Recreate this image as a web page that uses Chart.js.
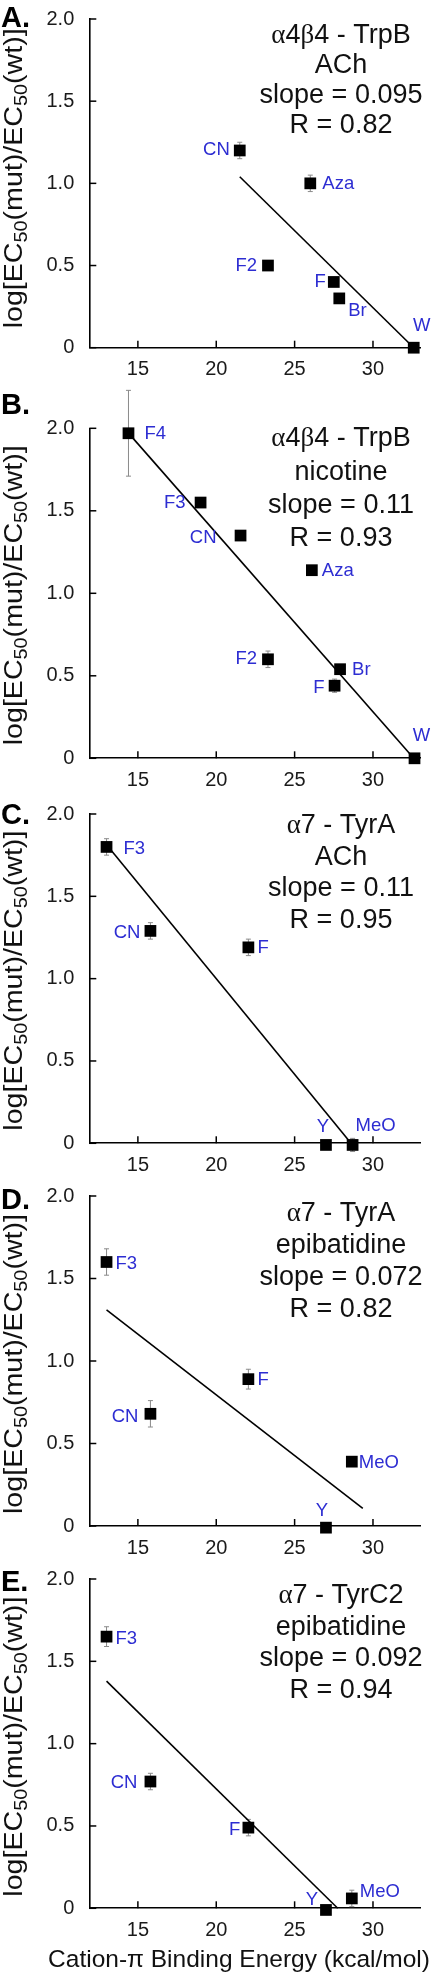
<!DOCTYPE html>
<html><head><meta charset="utf-8">
<script src="https://cdn.jsdelivr.net/npm/chart.js@4.4.1/dist/chart.umd.min.js"></script>
<style>
html,body{margin:0;padding:0;background:#fff;}
#wrap{position:relative;width:432px;height:1974px;overflow:hidden;background:#fff}
canvas{position:absolute;left:0;}
</style></head><body><div id="wrap"></div>
<script>
// ---- shared axis data ----
const xTicks = [15, 20, 25, 30];
const yTicks = [0, 0.5, 1, 1.5, 2];
const yTickLabels = ['0', '0.5', '1.0', '1.5', '2.0'];
const xMin = 11.9, xMax = 33, yMin = 0, yMax = 2;
const xAxisTitle = 'Cation-π Binding Energy (kcal/mol)';

// ---- Panel A ----
const namesA = ['CN', 'Aza', 'F2', 'F', 'Br', 'W'];
const xA = [21.5, 26.0, 23.3, 27.5, 27.85, 32.6];
const yA = [1.2, 1.0, 0.5, 0.4, 0.3, 0];
const errA = [0.05, 0.05, 0, 0, 0, 0];
const fitXA = [21.5, 32.6];
const fitYA = [1.04, 0];
const infoA = ['α4β4 - TrpB', 'ACh', 'slope = 0.095', 'R = 0.82'];

// ---- Panel B ----
const namesB = ['F4', 'F3', 'CN', 'Aza', 'F2', 'Br', 'F', 'W'];
const xB = [14.4, 19.0, 21.55, 26.1, 23.3, 27.9, 27.55, 32.65];
const yB = [1.97, 1.55, 1.35, 1.14, 0.6, 0.54, 0.44, 0];
const errB = [0.26, 0.03, 0.02, 0.02, 0.05, 0.02, 0.04, 0];
const fitXB = [14.5, 32.6];
const fitYB = [1.96, 0];
const infoB = ['α4β4 - TrpB', 'nicotine', 'slope = 0.11', 'R = 0.93'];

// ---- Panel C ----
const namesC = ['F3', 'CN', 'F', 'Y', 'MeO'];
const xC = [13.0, 15.8, 22.05, 27.0, 28.7];
const yC = [1.8, 1.29, 1.19, -0.01, -0.01];
const errC = [0.05, 0.05, 0.05, 0, 0.04];
const fitXC = [13.2, 28.6];
const fitYC = [1.79, 0.0];
const infoC = ['α7 - TyrA', 'ACh', 'slope = 0.11', 'R = 0.95'];

// ---- Panel D ----
const namesD = ['F3', 'CN', 'F', 'MeO', 'Y'];
const xD = [13.0, 15.8, 22.05, 28.65, 27.0];
const yD = [1.6, 0.68, 0.89, 0.39, -0.01];
const errD = [0.08, 0.08, 0.06, 0.02, 0];
const fitXD = [13.0, 29.35];
const fitYD = [1.31, 0.107];
const infoD = ['α7 - TyrA', 'epibatidine', 'slope = 0.072', 'R = 0.82'];

// ---- Panel E ----
const namesE = ['F3', 'CN', 'F', 'Y', 'MeO'];
const xE = [13.0, 15.8, 22.05, 27.0, 28.65];
const yE = [1.65, 0.77, 0.49, -0.01, 0.06];
const errE = [0.06, 0.05, 0.05, 0.02, 0.05];
const fitXE = [13.0, 27.75];
const fitYE = [1.38, 0];
const infoE = ['α7 - TyrC2', 'epibatidine', 'slope = 0.092', 'R = 0.94'];

// ---- label placement (style, not data): [dx, dy, align] relative to marker ----
const placeA = [[-10,-1,'right'],[12,1,'left'],[-11,0,'right'],[-8,0,'right'],[9,13,'left'],[8,-22,'center']];
const placeB = [[16,1,'left'],[-15,0,'right'],[-24,2,'right'],[10,1,'left'],[-11,0,'right'],[12,1,'left'],[-10,2,'right'],[7,-22,'center']];
const placeC = [[17,2,'left'],[-10,2,'right'],[9,1,'left'],[-3,-18,'center'],[3,-19,'left']];
const placeD = [[9,2,'left'],[-12,3,'right'],[9,1,'left'],[7,1,'left'],[-4,-17,'center']];
const placeE = [[9,2,'left'],[-13,1,'right'],[-8,2,'right'],[-14,-10,'center'],[8,-7,'left']];

const FONT = '"Liberation Sans", Arial, Helvetica, sans-serif';
const SERIF = '"Liberation Serif", "Times New Roman", serif';
const BLUE = '#2d2dd2';

const panels = [
  {letter:'A.', names:namesA, xs:xA, ys:yA, err:errA, fx:fitXA, fy:fitYA, info:infoA, place:placeA,
   top:0, h:386, aTop:17.3, aBot:347.7, letterBase:27, infoBase:43, infoStep:30, titleShift:-5},
  {letter:'B.', names:namesB, xs:xB, ys:yB, err:errB, fx:fitXB, fy:fitYB, info:infoB, place:placeB,
   top:386, h:404, aTop:428.3, aBot:758.3, letterBase:413.7, infoBase:446.4, infoStep:33.3, titleShift:2},
  {letter:'C.', names:namesC, xs:xC, ys:yC, err:errC, fx:fitXC, fy:fitYC, info:infoC, place:placeC,
   top:790, h:386, aTop:814, aBot:1143.3, letterBase:824.4, infoBase:833, infoStep:31.7, titleShift:2},
  {letter:'D.', names:namesD, xs:xD, ys:yD, err:errD, fx:fitXD, fy:fitYD, info:infoD, place:placeD,
   top:1176, h:384, aTop:1196, aBot:1526, letterBase:1209.4, infoBase:1221.4, infoStep:31.7, titleShift:3},
  {letter:'E.', names:namesE, xs:xE, ys:yE, err:errE, fx:fitXE, fy:fitYE, info:infoE, place:placeE,
   top:1560, h:414, aTop:1578.3, aBot:1908.3, letterBase:1591.2, infoBase:1603, infoStep:31.7, titleShift:3, xTitle:true}
];

function drawMixed(ctx, text, cx, y, size) {
  const parts = text.split(/([α-ωΑ-Ω]+)/).filter(s => s.length);
  const fonts = parts.map(p => (/[α-ωΑ-Ω]/.test(p) ? size + 'px ' + SERIF : size + 'px ' + FONT));
  let w = 0;
  const ws = parts.map((p, i) => { ctx.font = fonts[i]; const m = ctx.measureText(p).width; w += m; return m; });
  let x = cx - w / 2;
  ctx.textAlign = 'left';
  parts.forEach((p, i) => { ctx.font = fonts[i]; ctx.fillText(p, x, y); x += ws[i]; });
}

function drawYTitle(ctx, bx, cy, len) {
  const segs = [['log[EC', 0], ['50', 1], ['(mut)/EC', 0], ['50', 1], ['(wt)]', 0]];
  const big = 26, small = 18;
  let w = 0;
  const ws = segs.map(s => { ctx.font = (s[1] ? small : big) + 'px ' + FONT; const m = ctx.measureText(s[0]).width; w += m; return m; });
  ctx.save();
  ctx.translate(bx, cy);
  ctx.rotate(-Math.PI / 2);
  ctx.scale(len / w, 1);
  ctx.textAlign = 'left';
  ctx.textBaseline = 'alphabetic';
  ctx.fillStyle = '#111';
  let x = -w / 2;
  segs.forEach((s, i) => { ctx.font = (s[1] ? small : big) + 'px ' + FONT; ctx.fillText(s[0], x, s[1] ? 4.5 : 0); x += ws[i]; });
  ctx.restore();
}

function makeOverlay(p) {
  return {
    id: 'overlay',
    beforeDatasetsDraw(chart) {
      const ctx = chart.ctx, xs = chart.scales.x, ys = chart.scales.y, a = chart.chartArea;
      ctx.save();
      ctx.strokeStyle = '#000'; ctx.lineWidth = 1.5;
      xs.ticks.forEach(t => { const px = xs.getPixelForValue(t.value); ctx.beginPath(); ctx.moveTo(px, a.bottom); ctx.lineTo(px, a.bottom - 7); ctx.stroke(); });
      ys.ticks.forEach(t => { const py = ys.getPixelForValue(t.value); ctx.beginPath(); ctx.moveTo(a.left, py); ctx.lineTo(a.left + 7, py); ctx.stroke(); });
      ctx.strokeStyle = '#8a8a8a'; ctx.lineWidth = 1;
      p.xs.forEach((xv, i) => {
        const e = p.err[i]; if (!e) return;
        const px = xs.getPixelForValue(xv);
        const y1 = ys.getPixelForValue(p.ys[i] + e), y2 = ys.getPixelForValue(p.ys[i] - e);
        ctx.beginPath();
        ctx.moveTo(px, y1); ctx.lineTo(px, y2);
        ctx.moveTo(px - 2.5, y1); ctx.lineTo(px + 2.5, y1);
        ctx.moveTo(px - 2.5, y2); ctx.lineTo(px + 2.5, y2);
        ctx.stroke();
      });
      ctx.restore();
    },
    afterDatasetsDraw(chart) {
      const ctx = chart.ctx, xs = chart.scales.x, ys = chart.scales.y, a = chart.chartArea;
      ctx.save();
      ctx.fillStyle = BLUE; ctx.font = '18.5px ' + FONT; ctx.textBaseline = 'middle';
      p.names.forEach((n, i) => {
        const px = xs.getPixelForValue(p.xs[i]), py = ys.getPixelForValue(p.ys[i]);
        const pl = p.place[i];
        ctx.textAlign = pl[2];
        ctx.fillText(n, px + pl[0], py + pl[1]);
      });
      ctx.fillStyle = '#111'; ctx.textBaseline = 'alphabetic';
      p.info.forEach((t, i) => drawMixed(ctx, t, 341, p.infoBase - p.top + i * p.infoStep, 27));
      ctx.font = 'bold 29px ' + FONT; ctx.textAlign = 'left'; ctx.fillStyle = '#000';
      ctx.fillText(p.letter, 1, p.letterBase - p.top);
      drawYTitle(ctx, 22, (a.top + a.bottom) / 2 + p.titleShift, 300);
      if (p.xTitle) {
        ctx.font = '24.5px ' + FONT; ctx.fillStyle = '#111'; ctx.textAlign = 'center'; ctx.textBaseline = 'alphabetic';
        ctx.fillText(xAxisTitle, 239, 1966.5 - p.top);
      }
      ctx.restore();
    }
  };
}

const wrap = document.getElementById('wrap');
panels.forEach(p => {
  const c = document.createElement('canvas');
  c.width = 432; c.height = p.h;
  c.style.top = p.top + 'px';
  c.style.width = '432px'; c.style.height = p.h + 'px';
  wrap.appendChild(c);
  const xAxisH = 30;
  const padTop = p.aTop - p.top;
  const padBot = p.h - (p.aBot - p.top) - xAxisH;
  new Chart(c, {
    type: 'scatter',
    data: {
      datasets: [
        { data: p.xs.map((x, i) => ({ x: x, y: p.ys[i] })), pointStyle: 'rect', pointRadius: 8.3, pointHoverRadius: 8.3,
          backgroundColor: '#000', borderColor: '#000', borderWidth: 0, clip: false, order: 1 },
        { data: p.fx.map((x, i) => ({ x: x, y: p.fy[i] })), showLine: true, pointRadius: 0, borderColor: '#000',
          borderWidth: 1.6, clip: false, order: 2 }
      ]
    },
    options: {
      responsive: false, animation: false, devicePixelRatio: 1, events: [],
      layout: { padding: { top: padTop, bottom: padBot, left: 0, right: 12 } },
      plugins: { legend: { display: false }, tooltip: { enabled: false } },
      scales: {
        x: {
          type: 'linear', min: xMin, max: xMax,
          afterBuildTicks: s => { s.ticks = xTicks.map(v => ({ value: v })); },
          afterFit: s => { s.height = xAxisH; },
          grid: { display: false },
          border: { display: true, color: '#000', width: 1.6 },
          ticks: { font: { family: FONT, size: 20 }, color: '#1a1a1a', padding: 2, maxRotation: 0, autoSkip: false }
        },
        y: {
          type: 'linear', min: yMin, max: yMax,
          afterBuildTicks: s => { s.ticks = yTicks.map(v => ({ value: v })); },
          afterFit: s => { s.width = 89.3; },
          grid: { display: false },
          border: { display: true, color: '#000', width: 1.6 },
          ticks: { font: { family: FONT, size: 20 }, color: '#1a1a1a', padding: 7,
                   callback: (v) => { const k = yTicks.indexOf(v); return k >= 0 ? yTickLabels[k] : ''; } }
        }
      }
    },
    plugins: [makeOverlay(p)]
  });
});
</script></body></html>
